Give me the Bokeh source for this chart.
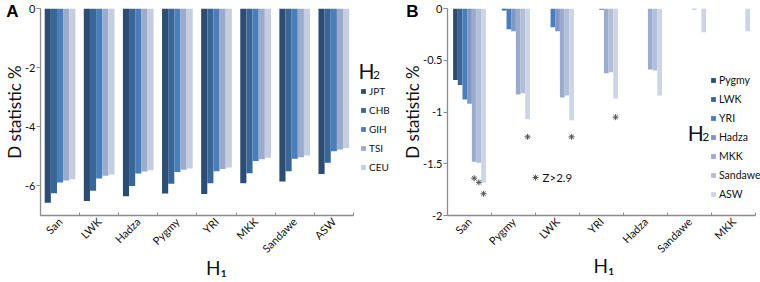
import math
from bokeh.plotting import figure
from bokeh.models import Range1d, FixedTicker, Legend, LegendItem, Label, LinearAxis
from bokeh.layouts import row
from bokeh.embed import file_html
from bokeh.resources import INLINE

FONT = "Lato"

# ---------------- Panel A data ----------------
a_groups = ["San", "LWK", "Hadza", "Pygmy", "YRI", "MKK", "Sandawe", "ASW"]
a_series = ["JPT", "CHB", "GIH", "TSI", "CEU"]
a_JPT = [-6.57, -6.51, -6.35, -6.26, -6.27, -5.91, -5.85, -5.60]
a_CHB = [-6.25, -6.16, -6.00, -5.93, -5.91, -5.57, -5.50, -5.22]
a_GIH = [-5.88, -5.75, -5.58, -5.53, -5.50, -5.16, -5.08, -4.83]
a_TSI = [-5.82, -5.66, -5.51, -5.45, -5.43, -5.10, -5.03, -4.77]
a_CEU = [-5.77, -5.61, -5.47, -5.41, -5.38, -5.05, -4.97, -4.72]
a_values = [a_JPT, a_CHB, a_GIH, a_TSI, a_CEU]
a_colors = ["#2D4C74", "#3A6597", "#4A7EBA", "#9AABCB", "#C5CDE0"]
a_yticks = [-6, -4, -2, 0]

# ---------------- Panel B data ----------------
b_groups = ["San", "Pygmy", "LWK", "YRI", "Hadza", "Sandawe", "MKK"]
b_series = ["Pygmy", "LWK", "YRI", "Hadza", "MKK", "Sandawe", "ASW"]
b_Pygmy = [-0.69, 0.0, 0.0, 0.0, 0.0, 0.0, 0.0]
b_LWK = [-0.74, -0.02, 0.0, 0.0, 0.0, 0.0, 0.0]
b_YRI = [-0.88, -0.20, -0.18, 0.0, 0.0, 0.0, 0.0]
b_Hadza = [-0.92, -0.22, -0.22, -0.015, 0.0, 0.0, 0.0]
b_MKK = [-1.48, -0.83, -0.86, -0.625, -0.59, -0.01, 0.0]
b_Sandawe = [-1.49, -0.82, -0.84, -0.615, -0.60, 0.0, 0.0]
b_ASW = [-1.68, -1.07, -1.08, -0.87, -0.84, -0.23, -0.22]
b_values = [b_Pygmy, b_LWK, b_YRI, b_Hadza, b_MKK, b_Sandawe, b_ASW]
b_colors = ["#2D4C74", "#3A6597", "#4A7EBA", "#7D98C8", "#9AABCB", "#B3BED8", "#CDD4E6"]
b_yticks = [-2, -1.5, -1, -0.5, 0]

# significance marks (Z > 2.9)
z_groups = ["San", "San", "San", "Pygmy", "LWK", "YRI"]
z_series = ["MKK", "Sandawe", "ASW", "ASW", "ASW", "ASW"]
z_values = [-1.64, -1.68, -1.79, -1.24, -1.24, -1.05]

AXIS_COLOR = "#8C8C8C"
TEXT_COLOR = "#111111"


def base_fig(width, ngroups, xend, ymin, bl, bb, yticks, groups, panel_letter,
             letter_shift, xlabel_standoff):
    p = figure(width=width, height=282, x_range=Range1d(0, xend),
               y_range=Range1d(ymin, 0), output_backend="svg",
               toolbar_location=None, min_border_left=bl, min_border_right=0,
               min_border_top=8, min_border_bottom=bb)
    p.outline_line_color = None
    p.grid.visible = False
    p.background_fill_color = "white"
    p.border_fill_color = "white"

    centers = [i + 0.5 for i in range(ngroups)]
    bounds = list(range(ngroups + 1))
    xa = p.xaxis[0]
    xa.bounds = (0, ngroups)
    xa.ticker = FixedTicker(ticks=centers, minor_ticks=bounds)
    xa.major_label_overrides = {c: g for c, g in zip(centers, groups)}
    xa.major_tick_out = 0
    xa.major_tick_in = 0
    xa.minor_tick_in = 3
    xa.minor_tick_out = 0
    xa.minor_tick_line_color = AXIS_COLOR
    xa.axis_line_color = AXIS_COLOR
    xa.axis_line_width = 1.3
    xa.major_label_orientation = math.pi / 4
    xa.major_label_standoff = 4
    xa.major_label_text_font = FONT
    xa.major_label_text_font_size = "11px"
    xa.major_label_text_color = TEXT_COLOR
    xa.axis_label = "H\u2081"
    xa.axis_label_standoff = xlabel_standoff
    xa.axis_label_text_font = FONT
    xa.axis_label_text_font_size = "19px"
    xa.axis_label_text_font_style = "normal"
    xa.axis_label_text_color = TEXT_COLOR

    ya = p.yaxis[0]
    ya.ticker = FixedTicker(ticks=yticks, minor_ticks=[])
    ya.major_label_overrides = {t: str(t) for t in yticks}
    ya.major_tick_out = 4
    ya.major_tick_in = 0
    ya.major_tick_line_color = AXIS_COLOR
    ya.axis_line_color = AXIS_COLOR
    ya.axis_line_width = 1.3
    ya.major_label_standoff = 1
    ya.major_label_text_font = FONT
    ya.major_label_text_font_size = "11px"
    ya.major_label_text_color = TEXT_COLOR
    ya.axis_label = "D statistic %"
    ya.axis_label_standoff = -3
    ya.axis_label_text_font = FONT
    ya.axis_label_text_font_size = "17px"
    ya.axis_label_text_font_style = "normal"
    ya.axis_label_text_color = TEXT_COLOR

    # panel letter, drawn as the single label of an outer, line-less axis
    la = LinearAxis(ticker=FixedTicker(ticks=[0], minor_ticks=[]),
                    major_label_overrides={0: panel_letter},
                    axis_line_color=None, major_tick_line_color=None,
                    minor_tick_line_color=None, major_tick_out=0, major_tick_in=0,
                    major_label_standoff=letter_shift,
                    major_label_text_font="Liberation Sans",
                    major_label_text_font_size="17px",
                    major_label_text_font_style="bold",
                    major_label_text_color="#000000")
    p.add_layout(la, "left")
    return p


def add_bars(p, groups, series, values, colors, span):
    n = len(series)
    w = span / n
    items = []
    for j, (name, vals, col) in enumerate(zip(series, values, colors)):
        xs = [i + 0.5 + (j - (n - 1) / 2) * w for i in range(len(groups))]
        r = p.vbar(x=xs, top=[0] * len(vals), bottom=vals, width=w,
                   fill_color=col, line_color=None)
        items.append(LegendItem(label=name, renderers=[r]))
    return items, w


def make_legend(items, loc, size):
    return Legend(items=items, location=loc, padding=0, margin=0, spacing=6,
                  glyph_width=6, glyph_height=6, label_height=13, label_standoff=3,
                  label_text_font=FONT, label_text_font_size=size,
                  label_text_color=TEXT_COLOR, border_line_color=None,
                  background_fill_alpha=0)


def sub_label(p, x, y, xo, yo, main, sub, size=21, subsize=12):
    p.add_layout(Label(x=x, y=y, x_offset=xo, y_offset=yo, text=main,
                       text_font=FONT, text_font_size=f"{size}px",
                       text_color=TEXT_COLOR, text_baseline="alphabetic"))
    p.add_layout(Label(x=x, y=y, x_offset=xo + size * 0.70, y_offset=yo - 4, text=sub,
                       text_font=FONT, text_font_size=f"{subsize}px",
                       text_color=TEXT_COLOR, text_baseline="alphabetic"))


# ---------------- Panel A ----------------
pa = base_fig(392, len(a_groups), 9.0, -7, 40, 64, a_yticks, a_groups, "A", -17, -6)
items_a, wa = add_bars(pa, a_groups, a_series, a_values, a_colors, 0.785)
pa.add_layout(make_legend(items_a, (320, 42), "10px"))
sub_label(pa, len(a_groups), 0, 5, -62, "H", "2")

# ---------------- Panel B ----------------
pb = base_fig(368, len(b_groups), 7.11, -2, 55, 67, b_yticks, b_groups, "B", -19, -8)
items_b, wb = add_bars(pb, b_groups, b_series, b_values, b_colors, 0.745)
pb.add_layout(make_legend(items_b, (263, 15), "10.5px"))

nb = len(b_series)
zx = [b_groups.index(g) + 0.5 + (b_series.index(s) - (nb - 1) / 2) * wb
      for g, s in zip(z_groups, z_series)]
pb.scatter(x=zx, y=z_values, marker="asterisk", size=6, line_color="#555555",
           line_width=1)
# key for the significance mark
pb.scatter(x=[2.0], y=[-1.633], marker="asterisk", size=6, line_color="#555555",
           line_width=1)
pb.add_layout(Label(x=2.0, y=-1.633, x_offset=7, text="Z>2.9", text_font=FONT,
                    text_font_size="11.5px", text_color=TEXT_COLOR,
                    text_baseline="middle"))
sub_label(pb, len(b_groups), 0, -68, -124, "H", "2")

layout = row(pa, pb, spacing=0)
open("out.html", "w").write(file_html(layout, INLINE))
